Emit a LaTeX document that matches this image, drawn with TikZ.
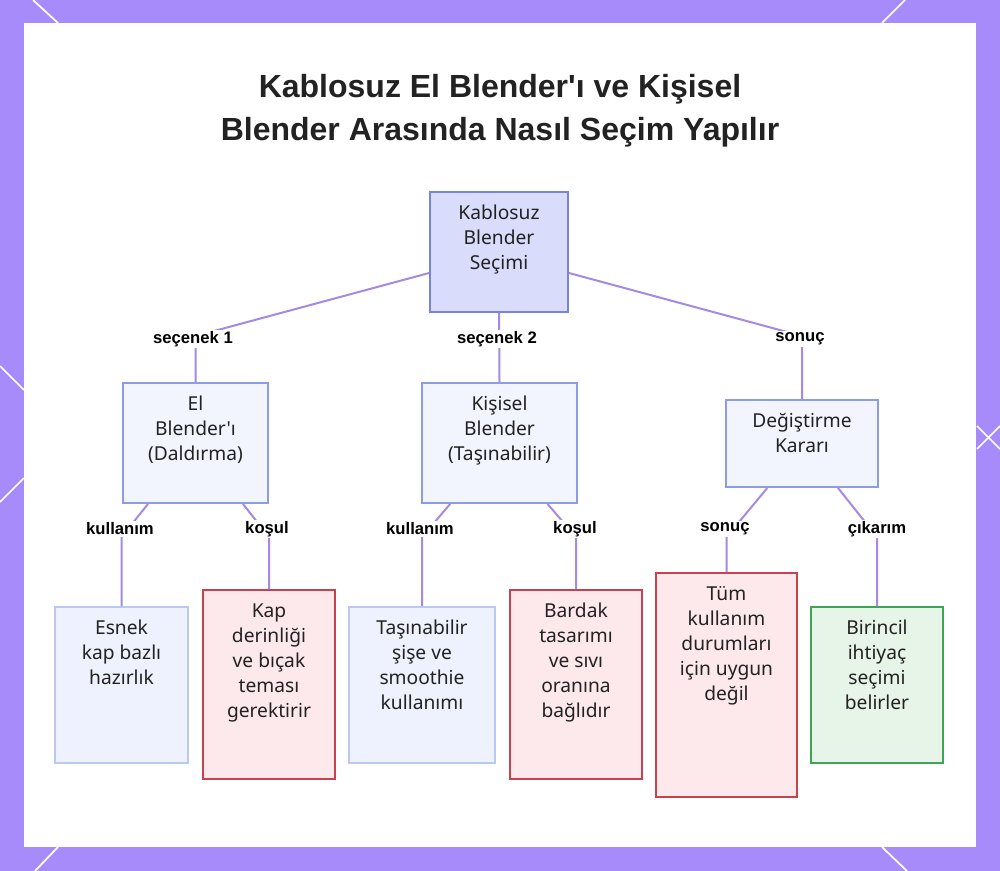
\documentclass[tikz,border=0pt]{standalone}
\usepackage{fontspec}
\newfontfamily\nsf{Noto Sans}
\newfontfamily\lsb{Liberation Sans}
\usetikzlibrary{calc}
\definecolor{bgpurple}{HTML}{A78BFA}
\definecolor{rootfill}{HTML}{D9DCFB}
\definecolor{rootdraw}{HTML}{7884D8}
\definecolor{midfill}{HTML}{F3F5FE}
\definecolor{middraw}{HTML}{8C9DE2}
\definecolor{bluefill}{HTML}{EEF2FE}
\definecolor{bluedraw}{HTML}{BCC8F2}
\definecolor{redfill}{HTML}{FDE8EC}
\definecolor{reddraw}{HTML}{C8414E}
\definecolor{greenfill}{HTML}{E6F5E8}
\definecolor{greendraw}{HTML}{3DA556}
\definecolor{edgecol}{HTML}{A48AE2}
\definecolor{txtcol}{HTML}{222222}
\begin{document}
\begin{tikzpicture}[x=0.75pt,y=-0.75pt,
  box/.style={draw, line width=1.4pt, inner sep=0pt, rectangle},
  rootbox/.style={box, fill=rootfill, draw=rootdraw},
  midbox/.style={box, fill=midfill, draw=middraw},
  bluebox/.style={box, fill=bluefill, draw=bluedraw},
  redbox/.style={box, fill=redfill, draw=reddraw},
  greenbox/.style={box, fill=greenfill, draw=greendraw},
  inlbl/.style={anchor=north, yshift=-7.8pt, inner sep=0pt, align=center,
    text=txtcol, font=\nsf\fontsize{14.4}{18.75}\selectfont},
  edge/.style={draw=edgecol, line width=1.5pt, line join=round},
  elabel/.style={font=\lsb\bfseries\fontsize{12.5}{15}\selectfont, fill=white,
    inner sep=1.2pt, text=black},
  deco/.style={draw=white, line width=1.3pt}
]
\useasboundingbox (0,0) rectangle (1000,871);
\fill[bgpurple] (0,0) rectangle (1000,871);
% corner decorations
\draw[deco] (33,0) -- (58,23);
\draw[deco] (905,0) -- (882,23);
\draw[deco] (35,871) -- (58,847);
\draw[deco] (907,871) -- (882,847);
\draw[deco] (0,366) -- (24,390);
\draw[deco] (0,502) -- (24,478);
\draw[deco] (977,426) -- (1000,449);
\draw[deco] (977,449) -- (1000,426);
\fill[white] (24,23) rectangle (976,847);

% title
\node[font=\lsb\bfseries\fontsize{24}{32.25}\selectfont, text=txtcol, align=center]
  (title) at (500,111) {Kablosuz El Blender'ı ve Kişisel\\Blender Arasında Nasıl Seçim Yapılır};

% nodes
\node[rootbox, minimum width=138*0.75pt, minimum height=120*0.75pt,
  label={[inlbl]north:{\strut Kablosuz\\Blender\\Seçimi}}] (root) at (499,252) {};
\node[midbox, minimum width=145*0.75pt, minimum height=120*0.75pt,
  label={[inlbl]north:{\strut El\\Blender'ı\\(Daldırma)}}] (el) at (195.5,443) {};
\node[midbox, minimum width=155*0.75pt, minimum height=120*0.75pt,
  label={[inlbl]north:{\strut Kişisel\\Blender\\(Taşınabilir)}}] (kis) at (499.5,443) {};
\node[midbox, minimum width=152*0.75pt, minimum height=87*0.75pt,
  label={[inlbl]north:{\strut Değiştirme\\Kararı}}] (deg) at (802,443.5) {};
\node[bluebox, minimum width=133*0.75pt, minimum height=156*0.75pt,
  label={[inlbl]north:{\strut Esnek\\kap bazlı\\hazırlık}}] (esn) at (121.5,685) {};
\node[redbox, minimum width=132*0.75pt, minimum height=189*0.75pt,
  label={[inlbl]north:{\strut Kap\\derinliği\\ve bıçak\\teması\\gerektirir}}] (kap) at (269,684.5) {};
\node[bluebox, minimum width=146*0.75pt, minimum height=156*0.75pt,
  label={[inlbl]north:{\strut Taşınabilir\\şişe ve\\smoothie\\kullanımı}}] (tas) at (422,685) {};
\node[redbox, minimum width=132*0.75pt, minimum height=189*0.75pt,
  label={[inlbl]north:{\strut Bardak\\tasarımı\\ve sıvı\\oranına\\bağlıdır}}] (bar) at (576,684.5) {};
\node[redbox, minimum width=141*0.75pt, minimum height=224*0.75pt,
  label={[inlbl]north:{\strut Tüm\\kullanım\\durumları\\için uygun\\değil}}] (tum) at (726.5,685) {};
\node[greenbox, minimum width=132*0.75pt, minimum height=156*0.75pt,
  label={[inlbl]north:{\strut Birincil\\ihtiyaç\\seçimi\\belirler}}] (bir) at (877,685) {};

% bend coordinates
\coordinate (c1) at (195.5,336);
\coordinate (c3) at (802,336);
\coordinate (c4) at (121.5,537);
\coordinate (c5) at (269,537);
\coordinate (c6) at (422,537);
\coordinate (c7) at (576,537);
\coordinate (c8) at (726.5,537);
\coordinate (c9) at (877,537);

% edges
\draw[edge] ([yshift=-15.75pt]root.west) -- (c1) -- (el.north);
\draw[edge] (root.south) -- (kis.north);
\draw[edge] ([yshift=-15.75pt]root.east) -- (c3) -- (deg.north);
\draw[edge] ([xshift=-35.6pt]el.south) -- (c4) -- (esn.north);
\draw[edge] ([xshift=35.6pt]el.south) -- (c5) -- (kap.north);
\draw[edge] ([xshift=-37pt]kis.south) -- (c6) -- (tas.north);
\draw[edge] ([xshift=36pt]kis.south) -- (c7) -- (bar.north);
\draw[edge] ([xshift=-26pt]deg.south) -- (c8) -- (tum.north);
\draw[edge] ([xshift=27pt]deg.south) -- (c9) -- (bir.north);

% edge labels
\node[elabel] (l1) at (193,339) {seçenek 1};
\node[elabel] (l2) at (497,339) {seçenek 2};
\node[elabel] (l3) at (800,339) {sonuç};
\node[elabel] (l4) at (120,529) {kullanım};
\node[elabel] (l5) at (267,529) {koşul};
\node[elabel] (l6) at (420,529) {kullanım};
\node[elabel] (l7) at (575,529) {koşul};
\node[elabel] (l8) at (725,529) {sonuç};
\node[elabel] (l9) at (877,529) {çıkarım};
\end{tikzpicture}
\end{document}
